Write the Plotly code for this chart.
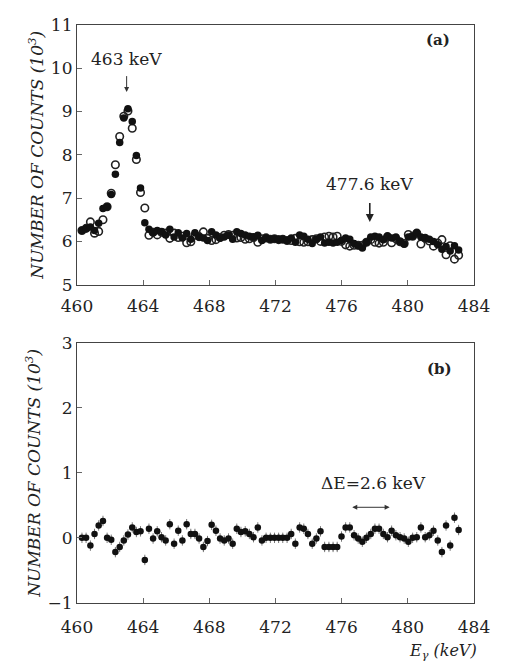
import plotly.graph_objects as go

# Energy of each channel (keV)
energy = [460.30, 460.55, 460.81, 461.06, 461.31, 461.57, 461.82, 462.07, 462.32, 462.58,
          462.83, 463.08, 463.34, 463.59, 463.84, 464.10, 464.35, 464.60, 464.85, 465.11,
          465.36, 465.61, 465.87, 466.12, 466.37, 466.63, 466.88, 467.13, 467.38, 467.64,
          467.89, 468.14, 468.40, 468.65, 468.90, 469.16, 469.41, 469.66, 469.91, 470.17,
          470.42, 470.67, 470.93, 471.18, 471.43, 471.69, 471.94, 472.19, 472.44, 472.70,
          472.95, 473.20, 473.46, 473.71, 473.96, 474.22, 474.47, 474.72, 474.97, 475.23,
          475.48, 475.73, 475.99, 476.24, 476.49, 476.75, 477.00, 477.25, 477.50, 477.76,
          478.01, 478.26, 478.52, 478.77, 479.02, 479.28, 479.53, 479.78, 480.03, 480.29,
          480.54, 480.79, 481.05, 481.30, 481.55, 481.81, 482.06, 482.31, 482.56, 482.82,
          483.07]

# Panel (a): filled circles (10^3 counts)
counts_filled = [6.25, 6.30, 6.33, 6.25, 6.42, 6.76, 6.80, 7.08, 7.55, 8.28,
                 8.85, 9.06, 8.77, 7.98, 7.23, 6.43, 6.28, 6.20, 6.25, 6.22,
                 6.15, 6.28, 6.10, 6.20, 6.08, 6.18, 6.05, 6.20, 6.10, 6.08,
                 6.02, 6.22, 6.15, 6.08, 6.10, 6.15, 6.05, 6.22, 6.18, 6.15,
                 6.12, 6.10, 6.14, 6.02, 6.08, 6.05, 6.06, 6.04, 6.05, 6.02,
                 6.08, 5.98, 6.15, 6.12, 6.05, 5.95, 6.05, 6.10, 5.96, 5.98,
                 5.96, 5.98, 6.02, 6.08, 6.05, 5.95, 5.90, 5.85, 5.98, 6.10,
                 6.12, 6.10, 6.04, 6.12, 6.08, 6.10, 6.00, 5.94, 6.10, 6.12,
                 6.20, 6.10, 6.08, 6.05, 6.00, 5.92, 5.82, 5.88, 5.78, 5.90,
                 5.80]

# Panel (a): open circles (10^3 counts)
counts_open = [6.25, 6.30, 6.45, 6.19, 6.23, 6.50, 6.80, 7.11, 7.77, 8.42,
               8.89, 9.01, 8.61, 7.89, 7.13, 6.77, 6.14, 6.21, 6.15, 6.21,
               6.19, 6.07, 6.19, 6.09, 6.12, 5.97, 5.99, 6.14, 6.11, 6.22,
               6.07, 6.02, 6.04, 6.09, 6.14, 6.16, 6.14, 6.08, 6.09, 6.05,
               6.06, 6.09, 5.98, 6.06, 6.08, 6.05, 6.06, 6.04, 6.05, 6.02,
               6.02, 6.07, 5.99, 5.98, 5.99, 6.04, 6.06, 6.00, 6.10, 6.12,
               6.10, 6.12, 6.00, 5.92, 5.89, 5.91, 5.91, 5.91, 5.98, 6.04,
               5.98, 5.96, 5.98, 6.11, 5.97, 6.06, 5.99, 5.95, 6.16, 6.12,
               6.19, 5.94, 6.07, 6.01, 5.89, 5.96, 6.04, 5.69, 5.90, 5.59,
               5.68]

# Panel (b): difference (10^3 counts)
counts_diff = [0.00, 0.00, -0.12, 0.06, 0.19, 0.26, 0.00, -0.03, -0.22, -0.14,
               -0.04, 0.05, 0.16, 0.09, 0.10, -0.34, 0.14, -0.01, 0.10, 0.01,
               -0.04, 0.21, -0.09, 0.11, -0.04, 0.21, 0.06, 0.06, -0.01, -0.14,
               -0.05, 0.20, 0.11, -0.01, -0.04, -0.01, -0.09, 0.14, 0.09, 0.10,
               0.06, 0.01, 0.16, -0.04, 0.00, 0.00, 0.00, 0.00, 0.00, 0.00,
               0.06, -0.09, 0.16, 0.14, 0.06, -0.09, -0.01, 0.10, -0.14, -0.14,
               -0.14, -0.14, 0.02, 0.16, 0.16, 0.04, -0.01, -0.06, 0.00, 0.06,
               0.14, 0.14, 0.06, 0.01, 0.11, 0.04, 0.01, -0.01, -0.06, 0.00,
               0.01, 0.16, 0.01, 0.04, 0.11, -0.04, -0.22, 0.19, -0.12, 0.31,
               0.12]
diff_err = 0.08
energy_halfwidth = 0.12

x_ticks = [460, 464, 468, 472, 476, 480, 484]
y_ticks_a = [5, 6, 7, 8, 9, 10, 11]
y_ticks_b = [-1, 0, 1, 2, 3]

# page has an 8px body margin, so the figure is 8px smaller than the window
W, H = 498, 663
FONT = "DejaVu Serif"

fig = go.Figure()

fig.add_trace(go.Scatter(
    x=energy, y=counts_open, mode="markers", xaxis="x", yaxis="y",
    marker=dict(symbol="circle-open", size=7.5, color="#222", line=dict(width=1.6, color="#222")),
    showlegend=False))
fig.add_trace(go.Scatter(
    x=energy, y=counts_filled, mode="markers", xaxis="x", yaxis="y",
    marker=dict(symbol="circle", size=7.5, color="#111"),
    showlegend=False))
fig.add_trace(go.Scatter(
    x=energy, y=counts_diff, mode="markers", xaxis="x2", yaxis="y2",
    marker=dict(symbol="circle", size=6.5, color="#111"),
    error_y=dict(type="constant", value=diff_err, color="#777", thickness=1, width=0),
    error_x=dict(type="constant", value=energy_halfwidth, color="#777", thickness=1, width=0),
    showlegend=False))

axis_common = dict(
    showgrid=False, zeroline=False, showline=True, mirror=True,
    linecolor="#444", linewidth=1.2, ticks="inside", ticklen=5, tickcolor="#666",
    tickfont=dict(size=17, color="#222"),
)

ytitle = "<i>NUMBER OF COUNTS (10<sup>3</sup>)</i>"
title_font = dict(size=17, color="#222")

fig.update_layout(
    font=dict(family=FONT, color="#222"),
    width=W, height=H,
    margin=dict(l=69, r=32, t=0, b=0),
    paper_bgcolor="white", plot_bgcolor="white",
    xaxis=dict(axis_common, domain=[0, 1], range=[460, 484], tickvals=x_ticks,
               anchor="y", ticklabelstandoff=6),
    yaxis=dict(axis_common, domain=[1 - 275 / H, 1 - 7 / H], range=[5, 11],
               tickvals=y_ticks_a, anchor="x",
               title=dict(text=ytitle, font=title_font, standoff=2)),
    xaxis2=dict(axis_common, domain=[0, 1], range=[460, 484], tickvals=x_ticks,
                anchor="y2", ticklabelstandoff=9),
    yaxis2=dict(axis_common, domain=[1 - 603 / H, 1 - 335 / H], range=[-1, 3],
                tickvals=y_ticks_b, anchor="x2",
                title=dict(text=ytitle, font=title_font, standoff=2)),
)

ann_font = dict(size=17, color="#222")
fig.add_annotation(x=463.0, y=10.2, xref="x", yref="y", text="463 keV", showarrow=False, font=ann_font)
fig.add_annotation(x=463.0, y=9.45, ax=463.0, ay=9.85, xref="x", yref="y", axref="x", ayref="y",
                   showarrow=True, arrowhead=2, arrowsize=1, arrowwidth=1, arrowcolor="#333", text="")
fig.add_annotation(x=477.7, y=7.33, xref="x", yref="y", text="477.6 keV", showarrow=False, font=ann_font)
fig.add_annotation(x=477.7, y=6.45, ax=477.7, ay=6.92, xref="x", yref="y", axref="x", ayref="y",
                   showarrow=True, arrowhead=2, arrowsize=1, arrowwidth=1.6, arrowcolor="#222", text="")
fig.add_annotation(x=481.8, y=10.65, xref="x", yref="y", text="<b>(a)</b>", showarrow=False,
                   font=dict(size=15, color="#222"))
fig.add_annotation(x=481.9, y=2.6, xref="x2", yref="y2", text="<b>(b)</b>", showarrow=False,
                   font=dict(size=15, color="#222"))
fig.add_annotation(x=477.95, y=0.85, xref="x2", yref="y2", text="\u0394E=2.6 keV", showarrow=False, font=ann_font)
fig.add_annotation(x=478.9, y=0.47, ax=476.55, ay=0.47, xref="x2", yref="y2", axref="x2", ayref="y2",
                   showarrow=True, arrowhead=2, startarrowhead=2, arrowside="end+start",
                   arrowsize=1, arrowwidth=1, arrowcolor="#333", text="")
fig.add_annotation(x=482.1, y=1 - 653 / H, xref="x2", yref="paper", yanchor="middle", showarrow=False,
                   text="<i>E<sub>\u03b3</sub> (keV)</i>", font=dict(size=16, color="#222"))

fig.write_html("out.html")
